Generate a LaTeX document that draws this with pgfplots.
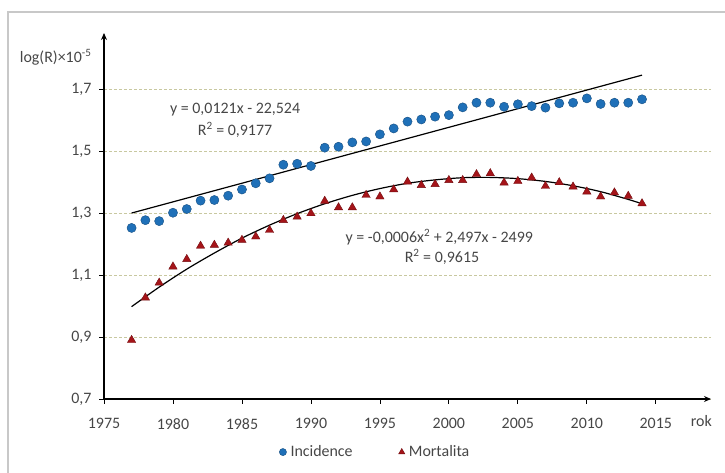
\documentclass[border=0pt]{standalone}
\usepackage{pgfplots}
\pgfplotsset{compat=1.18}
\usepackage{fontspec}
\setmainfont{Carlito}
\usetikzlibrary{arrows.meta}
\definecolor{incblue}{RGB}{31,112,184}
\definecolor{mortred}{RGB}{165,20,25}
\definecolor{gridk}{RGB}{200,200,160}
\definecolor{txtgray}{RGB}{70,70,70}
\newcommand\fs{\fontsize{16}{18}\selectfont}
\begin{document}
\begin{tikzpicture}[x=1bp,y=1bp]
\path[use as bounding box] (-104,-74) rectangle (621,399);
\draw[color={rgb,255:red,200;green,200;blue,200},line width=1.5bp] (-96,-80) -- (-96,387) -- (630,387);
\begin{axis}[
  at={(0,0)}, anchor=origin, scale only axis,
  width=607bp, height=366bp,
  xmin=1975, xmax=2019, ymin=0.7, ymax=1.881,
  axis lines=left,
  axis line style={line width=1.4bp, -{Stealth[length=7bp,width=6bp]}},
  xtick={1975,1980,...,2015},
  ytick={0.7,0.9,...,1.71},
  tick align=outside,
  major tick length=5bp,
  tick style={black, line width=0.8bp},
  ymajorgrids,
  grid style={gridk, dash pattern=on 3bp off 2bp, line width=0.6bp},
  /pgf/number format/assume math mode=true,
  xticklabel={\pgfmathprintnumber[1000 sep={},fixed,precision=0]{\tick}},
  yticklabel={\pgfmathprintnumber[use comma,fixed,fixed zerofill,precision=1]{\tick}},
  ticklabel style={font=\fs, text=txtgray},
  xticklabel style={yshift=-11bp},
  yticklabel style={xshift=-4bp},
  clip=false,
  legend style={at={(0.447,-0.145)}, anchor=center, draw=none, fill=none,
    font=\fs, text=txtgray, legend columns=2,
    /tikz/every even column/.append style={column sep=44bp},
    /tikz/every odd column/.append style={column sep=2bp}},
  legend cell align=left,
  legend image code/.code={\draw[#1, mark size=3.6bp] plot coordinates {(0bp,0bp)};},
]
\addplot[only marks, mark=*, mark size=4.6bp, mark options={fill=incblue, draw=incblue!70!black, line width=0.4bp}] coordinates {
(1977,1.252) (1978,1.277) (1979,1.274) (1980,1.301) (1981,1.313) (1982,1.340)
(1983,1.342) (1984,1.356) (1985,1.376) (1986,1.396) (1987,1.412) (1988,1.456)
(1989,1.459) (1990,1.452) (1991,1.511) (1992,1.514) (1993,1.528) (1994,1.531)
(1995,1.554) (1996,1.573) (1997,1.595) (1998,1.602) (1999,1.611) (2000,1.616)
(2001,1.641) (2002,1.656) (2003,1.656) (2004,1.643) (2005,1.651) (2006,1.645)
(2007,1.640) (2008,1.654) (2009,1.656) (2010,1.670) (2011,1.652) (2012,1.656)
(2013,1.656) (2014,1.667)};
\addlegendentry{Incidence}
\addplot[only marks, mark=triangle*, mark size=4.8bp, mark options={fill=mortred, draw=mortred!70!black, line width=0.4bp}] coordinates {
(1977,0.890) (1978,1.027) (1979,1.075) (1980,1.127) (1981,1.151) (1982,1.194)
(1983,1.197) (1984,1.204) (1985,1.213) (1986,1.224) (1987,1.245) (1988,1.277)
(1989,1.288) (1990,1.299) (1991,1.339) (1992,1.318) (1993,1.318) (1994,1.358)
(1995,1.353) (1996,1.376) (1997,1.401) (1998,1.390) (1999,1.393) (2000,1.406)
(2001,1.406) (2002,1.425) (2003,1.428) (2004,1.398) (2005,1.403) (2006,1.414)
(2007,1.387) (2008,1.399) (2009,1.385) (2010,1.369) (2011,1.353) (2012,1.366)
(2013,1.355) (2014,1.331)};
\addlegendentry{Mortalita}
\addplot[forget plot, black, line width=1.2bp] coordinates {(1977,1.300) (2014,1.745)};
\addplot[forget plot, black, line width=1.2bp, smooth] coordinates {
(1977,0.998) (1979,1.061) (1981,1.119) (1983,1.171) (1985,1.219) (1987,1.261)
(1989,1.298) (1991,1.330) (1993,1.357) (1995,1.379) (1997,1.396) (1999,1.407)
(2001,1.414) (2003,1.415) (2005,1.411) (2007,1.402) (2009,1.388) (2011,1.369)
(2013,1.344) (2014,1.330)};
\node[font=\fs, text=txtgray] at (axis cs:1984.5,1.635) {y = 0,0121x - 22,524};
\node[font=\fs, text=txtgray] at (axis cs:1984.5,1.568) {R\textsuperscript{2} = 0,9177};
\node[font=\fs, text=txtgray] at (axis cs:1999.3,1.2226) {y = -0,0006x\textsuperscript{2} + 2,497x - 2499};
\node[font=\fs, text=txtgray] at (axis cs:1999.5,1.158) {R\textsuperscript{2} = 0,9615};
\node[font=\fs, text=txtgray] at (axis cs:2018.3,0.629) {rok};
\node[font=\fs, text=txtgray] at (axis cs:1971.5,1.803) {log(R)×10\textsuperscript{-5}};
\end{axis}
\end{tikzpicture}
\end{document}
